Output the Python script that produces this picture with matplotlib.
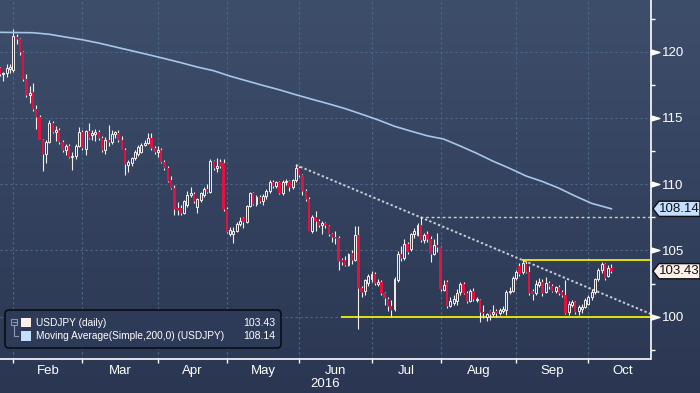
import numpy as np
import pandas as pd
import matplotlib
matplotlib.use('Agg')
import matplotlib.pyplot as plt
from matplotlib.colors import LinearSegmentedColormap
from matplotlib.patches import Rectangle, Polygon, FancyBboxPatch
from matplotlib.path import Path

plt.rcParams['font.family'] = ['Liberation Sans', 'DejaVu Sans']

# USDJPY daily, business days 2016-01-25 .. 2016-10-11
start_date, end_date = '2016-01-25', '2016-10-11'

opens = [
    118.75, 118.30, 118.40, 118.70, 118.65,                          # Jan
    121.10, 120.95, 119.95, 117.90, 116.75, 116.95, 115.70, 115.05, 113.30, 112.30,
    113.20, 114.65, 113.95, 114.05, 113.15, 112.55, 112.85, 112.05, 112.10, 112.90, 113.95,  # Feb
    112.65, 114.00, 113.70, 113.75, 113.95, 113.45, 112.60, 113.35, 113.20, 113.80,
    113.85, 113.30, 112.60, 111.45, 111.60, 111.95, 112.30, 112.45, 112.95, 113.10,
    113.45, 112.70, 112.45,                                          # Mar
    112.60, 111.70, 111.20, 110.30, 109.70, 108.20, 108.20, 107.85, 108.45, 109.20,
    109.25, 108.30, 108.80, 109.20, 109.60, 109.40, 111.75, 111.20, 111.65, 111.60, 108.10,  # Apr
    106.25, 106.25, 106.50, 107.00, 107.45, 107.15, 108.35, 109.35, 108.50, 109.05,
    108.70, 109.10, 109.50, 110.20, 109.85, 110.15, 109.30, 110.15, 110.25, 109.75,
    110.35, 111.25,                                                  # May
    110.70, 109.45, 108.85, 106.50, 107.55, 107.25, 106.95, 107.05, 106.85, 106.20,
    106.00, 105.95, 104.25, 104.30, 103.90, 104.80, 104.30, 106.15, 102.15, 101.95,
    102.55, 102.85,                                                  # Jun
    103.20, 102.50, 102.60, 101.80, 101.30, 100.80, 100.55, 102.80, 104.75, 104.45,
    105.45, 105.10, 106.20, 106.15, 106.90, 105.80, 106.20, 105.85, 104.70, 105.40, 105.25,  # Jul
    102.00, 102.65, 100.80, 101.00, 101.20, 101.85, 102.45, 101.80, 101.20, 101.95,
    101.25, 101.25, 100.35, 99.95, 100.45, 100.20, 100.45, 100.25, 100.45, 100.50,
    101.85, 101.90, 102.95,                                          # Aug
    103.85, 103.35, 104.00, 103.40, 101.95, 101.75, 102.40, 102.60, 101.85, 102.55,
    102.35, 101.95, 102.25, 101.85, 101.65, 100.35, 100.90, 101.10, 100.40, 100.55,
    100.75, 100.95,                                                  # Sep
    101.45, 101.85, 102.85, 103.50, 103.95, 103.10, 103.65,          # Oct
]
highs = [
    118.85, 118.50, 119.05, 119.10, 121.70,
    121.35, 121.05, 120.05, 118.35, 117.40, 117.60, 115.95, 115.20, 113.40, 113.30,
    114.85, 114.80, 114.40, 114.25, 113.35, 113.05, 113.05, 112.45, 113.00, 114.30, 114.05,
    114.05, 114.60, 114.05, 114.15, 114.10, 113.60, 113.55, 114.45, 114.05, 114.00,
    114.10, 113.60, 112.70, 111.85, 112.05, 112.55, 112.95, 113.10, 113.30, 113.85,
    113.85, 112.85, 112.85,
    112.75, 111.85, 111.35, 110.60, 109.95, 108.65, 108.40, 108.80, 109.45, 109.75,
    109.40, 108.95, 109.40, 109.75, 110.00, 111.90, 111.85, 111.95, 111.90, 111.90, 108.25,
    106.80, 106.80, 107.15, 107.50, 107.50, 108.45, 109.40, 109.40, 109.15, 109.20,
    109.25, 109.60, 110.30, 110.30, 110.25, 110.25, 110.30, 110.40, 110.30, 110.40,
    111.45, 111.35,
    110.80, 109.60, 109.05, 107.70, 107.95, 107.35, 107.20, 107.15, 106.95, 106.35,
    106.50, 106.10, 104.40, 104.55, 104.80, 105.00, 106.85, 106.85, 102.35, 102.85,
    103.25, 103.45,
    103.40, 102.85, 102.75, 101.85, 101.45, 101.25, 103.00, 104.95, 105.30, 105.85,
    105.60, 106.35, 106.70, 107.05, 107.50, 106.35, 106.45, 106.05, 105.85, 106.30, 105.35,
    102.80, 102.75, 101.50, 101.60, 102.05, 102.65, 102.65, 101.95, 102.10, 102.15,
    101.45, 101.30, 100.85, 100.30, 100.50, 100.85, 100.55, 100.65, 100.80, 102.00,
    102.20, 103.05, 103.50,
    104.05, 104.30, 104.20, 103.80, 102.10, 102.75, 102.90, 102.85, 103.00, 102.70,
    102.50, 102.35, 102.40, 102.00, 102.75, 101.20, 101.25, 101.20, 100.85, 100.95,
    101.40, 101.65,
    102.05, 102.95, 103.65, 104.15, 104.05, 103.90, 104.00,
]
lows = [
    118.20, 117.75, 118.10, 118.40, 118.50,
    120.60, 119.75, 117.80, 116.55, 116.10, 115.55, 114.20, 113.30, 111.00, 111.60,
    113.10, 113.85, 113.25, 113.05, 112.40, 112.20, 111.95, 111.05, 111.90, 112.80, 112.60,
    112.20, 113.40, 113.35, 113.25, 113.30, 112.40, 112.30, 112.90, 113.00, 113.45,
    113.20, 112.55, 110.70, 110.95, 111.40, 111.80, 112.15, 112.35, 112.85, 113.00,
    112.60, 112.25, 112.05,
    111.60, 111.10, 110.15, 109.60, 107.65, 107.70, 107.65, 107.75, 108.30, 109.05,
    108.60, 107.85, 108.65, 109.00, 109.30, 109.30, 111.05, 110.95, 111.20, 108.00, 106.30,
    106.10, 105.55, 106.40, 106.85, 106.70, 107.05, 108.25, 108.45, 108.35, 108.55,
    108.45, 108.90, 109.30, 109.70, 109.70, 109.25, 109.20, 109.90, 109.50, 109.60,
    110.20, 110.55,
    109.15, 108.75, 106.45, 106.35, 106.50, 106.80, 106.25, 106.70, 106.10, 105.60,
    105.50, 103.55, 103.90, 103.80, 103.80, 104.00, 104.20, 99.05, 101.45, 101.65,
    102.35, 102.60,
    102.40, 102.30, 101.65, 100.90, 100.45, 99.98, 100.40, 102.65, 104.20, 104.30,
    104.75, 104.95, 105.90, 106.05, 105.65, 105.55, 105.65, 104.10, 104.65, 104.85, 101.90,
    101.95, 100.65, 100.70, 100.85, 100.90, 101.65, 101.70, 101.00, 101.10, 101.20,
    101.10, 99.60, 99.90, 99.65, 99.75, 100.05, 99.95, 100.10, 100.30, 100.10,
    101.70, 101.85, 102.80,
    103.10, 103.25, 103.30, 101.65, 101.25, 101.65, 102.20, 101.55, 101.75, 102.05,
    101.85, 101.75, 101.65, 101.45, 100.20, 100.10, 100.75, 100.20, 100.15, 100.25,
    100.65, 100.85,
    101.25, 101.70, 102.70, 103.30, 102.80, 103.00, 103.30,
]
closes = [
    118.30, 118.40, 118.75, 118.85, 121.15,
    120.95, 119.95, 117.90, 116.75, 116.90, 115.70, 115.05, 113.35, 112.30, 113.20,
    114.65, 113.95, 114.05, 113.15, 112.55, 112.85, 112.05, 112.15, 112.90, 113.95, 112.70,
    114.00, 113.45, 113.85, 113.90, 113.45, 112.60, 113.35, 113.20, 113.80, 113.90,
    113.30, 112.60, 111.50, 111.70, 111.95, 112.45, 112.80, 112.95, 113.10, 113.45,
    112.70, 112.40, 112.60,
    111.70, 111.20, 110.25, 109.70, 108.10, 108.05, 107.85, 108.70, 109.20, 109.35,
    108.70, 108.85, 109.30, 109.60, 109.40, 111.75, 111.20, 111.35, 111.35, 108.10, 106.40,
    106.55, 106.50, 107.00, 107.25, 107.15, 108.35, 109.30, 108.50, 109.00, 108.70,
    109.10, 109.50, 110.20, 109.85, 110.15, 109.30, 110.20, 110.25, 109.75, 110.30,
    111.25, 110.70,
    109.45, 108.85, 106.50, 107.55, 107.25, 106.95, 107.05, 106.90, 106.20, 106.00,
    105.90, 104.20, 104.10, 103.90, 104.70, 104.30, 106.15, 102.15, 101.85, 102.80,
    103.05, 103.25,
    102.55, 102.60, 101.80, 101.40, 100.80, 100.50, 102.85, 104.70, 104.45, 105.45,
    104.90, 106.20, 106.50, 106.90, 105.80, 106.15, 105.85, 104.70, 105.40, 105.25, 102.05,
    102.40, 100.80, 101.20, 101.35, 101.80, 102.45, 101.80, 101.20, 101.95, 101.30,
    101.30, 100.35, 100.25, 100.20, 100.20, 100.35, 100.25, 100.50, 100.55, 101.85,
    101.95, 102.95, 103.40,
    103.25, 104.05, 103.35, 101.80, 101.70, 102.50, 102.65, 101.75, 102.55, 102.30,
    101.95, 102.25, 101.80, 101.65, 100.30, 100.95, 101.10, 100.35, 100.70, 100.75,
    101.25, 101.45,
    101.85, 102.85, 103.55, 103.95, 102.95, 103.70, 103.43,
]

# 200-day simple moving average, read every few sessions
ma_idx = [0, 10, 15, 20, 25, 30, 35, 40, 45, 50, 55, 60, 65, 70, 75, 80, 85, 90,
          95, 100, 105, 110, 115, 120, 125, 130, 135, 140, 145, 150, 155, 160, 165,
          170, 175, 180, 186]
ma_vals = [121.46, 121.43, 121.31, 121.10, 120.90, 120.65, 120.36, 120.07, 119.78,
           119.48, 119.17, 118.84, 118.56, 118.15, 117.80, 117.45, 117.12, 116.75,
           116.40, 116.06, 115.70, 115.28, 114.85, 114.37, 114.00, 113.65, 113.40,
           112.88, 112.33, 111.73, 111.20, 110.62, 110.20, 109.70, 109.10, 108.55, 108.14]

month_names = ['Feb', 'Mar', 'Apr', 'May', 'Jun', 'Jul', 'Aug', 'Sep', 'Oct']
year_label = '2016'
legend_names = ['USDJPY (daily)', 'Moving Average(Simple,200,0) (USDJPY)']
last_close = 103.43
last_ma = 108.14

support_level, support_from = 100.0, 103.6
resist_level, resist_from = 104.3, 158.7
julhigh_level, julhigh_from = 107.5, 127.8
trend_x = [90, 198]
trend_y = [111.45, 100.2]

# colours
up_col = '#f6efe9'
down_col = '#e3113f'
ma_col = '#a6c6ea'
grid_col = '#4b6a8a'
yellow = '#f2ee00'

W, H = 700, 393
fig = plt.figure(figsize=(W / 100, H / 100), dpi=100)

bg = fig.add_axes([0, 0, 1, 1], zorder=-10)
grad = np.linspace(0, 1, 256).reshape(-1, 1)
bg_cmap = LinearSegmentedColormap.from_list('bg', ['#2b3752', '#34425f', '#3d4e6b'])
bg.imshow(grad, aspect='auto', cmap=bg_cmap, origin='lower', extent=[0, 1, 0, 1])
bg.axis('off')

ax_right, ax_bottom = 650.5, 359.3
ax = fig.add_axes([0, (H - ax_bottom) / H, ax_right / W, ax_bottom / H])
ax.patch.set_alpha(0)

dates = pd.bdate_range(start_date, end_date)
x = np.arange(len(dates))
o, h, l, c = map(np.array, (opens, highs, lows, closes))
lo_b = np.minimum(o, c)
hi_b = np.maximum(o, c)

ax.vlines(x, l, lo_b, color=up_col, lw=0.8, zorder=3)
ax.vlines(x, hi_b, h, color=up_col, lw=0.8, zorder=3)
for xi, oi, ci, lb, hb in zip(x, o, c, lo_b, hi_b):
    hgt = max(hb - lb, 0.04)
    if ci >= oi:
        ax.add_patch(Rectangle((xi - 0.3, lb), 0.6, hgt, facecolor='#33415e',
                               edgecolor=up_col, lw=0.7, zorder=4))
    else:
        ax.add_patch(Rectangle((xi - 0.36, lb), 0.72, hgt, facecolor=down_col,
                               edgecolor='none', lw=0, zorder=4))

ax.plot(ma_idx, ma_vals, color=ma_col, lw=1.2, zorder=3)

xmax = 197.9
ax.plot(trend_x, trend_y, color='#c9ced8', lw=1.4, ls=(0, (1.2, 1.2)), zorder=2)
ax.hlines(julhigh_level, julhigh_from, xmax, color='#d6d4a8', lw=1.0, ls=(0, (2, 2)), zorder=2)
ax.hlines(support_level, support_from, xmax, color=yellow, lw=1.3, zorder=2)
ax.hlines(resist_level, resist_from, xmax, color=yellow, lw=1.3, zorder=2)

ax.set_xlim(-0.05, xmax)
ax.set_ylim(96.78, 123.9)

# month boundaries: last session of the previous month
ext = pd.bdate_range(start_date, '2016-10-31')
ends = [i for i in range(len(ext) - 1) if ext[i].month != ext[i + 1].month]
ends.append(len(ext) - 1)
ax.set_xticks(ends[:-1])
ax.set_xticklabels([])
mids = [(a + b) / 2 for a, b in zip(ends[:-1], ends[1:])]
ax.set_xticks(mids, minor=True)
ax.set_xticklabels(month_names, minor=True)
ax.tick_params(axis='x', which='major', length=3, width=1, color='white', direction='out')
ax.tick_params(axis='x', which='minor', length=0, pad=4, labelsize=9.5, labelcolor='white')
ax.text(0.5, -0.052, year_label, transform=ax.transAxes, ha='center', va='top',
        color='white', fontsize=9.5)

ax.yaxis.tick_right()
ax.set_yticks([100, 105, 110, 115, 120])
ax.set_yticks(np.arange(97.5, 123, 5), minor=True)
ax.tick_params(axis='y', which='major', length=0, pad=8, labelsize=9.5, labelcolor='white')
ax.tick_params(axis='y', which='minor', length=3, width=1, color='white', direction='out')

flag = Path([(0, 0.3), (1, 0), (0, -0.3), (0, 0.3)])
ax.plot([1.0] * 5, [100, 105, 110, 115, 120], ls='none', marker=flag, markersize=12,
        color='white', transform=ax.get_yaxis_transform(), clip_on=False, zorder=6)

ax.grid(True, which='major', color=grid_col, lw=0.8, ls=(0, (2, 2.5)))
for s in ['left', 'top']:
    ax.spines[s].set_visible(False)
for s in ['right', 'bottom']:
    ax.spines[s].set_color('white')
    ax.spines[s].set_linewidth(1.2)

# overlay in pixel coordinates for legend and price tags
ov = fig.add_axes([0, 0, 1, 1], zorder=8)
ov.set_xlim(0, W)
ov.set_ylim(H, 0)
ov.axis('off')


def to_px(val):
    return H - ax.transData.transform((0, val))[1]


for val, fc in [(last_ma, '#c4dfff'), (last_close, '#fff1ea')]:
    yc = to_px(val)
    ov.add_patch(Polygon([(653, yc), (659, yc - 7.6), (700, yc - 7.6), (700, yc + 7.6),
                          (659, yc + 7.6)], closed=True, facecolor=fc,
                         edgecolor='#111111', lw=1.0, zorder=9))
    ov.text(679, yc, f'{val:.2f}', ha='center', va='center', fontsize=9.5,
            color='#111111', zorder=10)

ov.add_patch(FancyBboxPatch((5, 310), 276, 38, boxstyle='round,pad=0,rounding_size=4',
                            facecolor='#2e3b58', edgecolor='#0a0d14', lw=1.2, zorder=9))
ov.add_patch(Rectangle((11.3, 319.3), 5.4, 5.6, facecolor='none', edgecolor='#8c96a8',
                       lw=0.8, zorder=10))
ov.plot([12.5, 15.5], [322.1, 322.1], color='#8c96a8', lw=0.8, zorder=10)
ov.plot([14, 14, 18], [325, 335.5, 335.5], color='#8c96a8', lw=0.8, zorder=10)
for yc, fc, name, val in [(322.5, '#fff1ea', legend_names[0], last_close),
                          (335.8, '#c4dfff', legend_names[1], last_ma)]:
    ov.add_patch(Rectangle((21, yc - 4.8), 10, 9.6, facecolor=fc, edgecolor='none', zorder=10))
    ov.text(35.5, yc, name, ha='left', va='center', fontsize=7.3, color='white', zorder=10)
    ov.text(275, yc, f'{val:.2f}', ha='right', va='center', fontsize=7.6, color='white', zorder=10)

fig.savefig('out.png', dpi=100)
